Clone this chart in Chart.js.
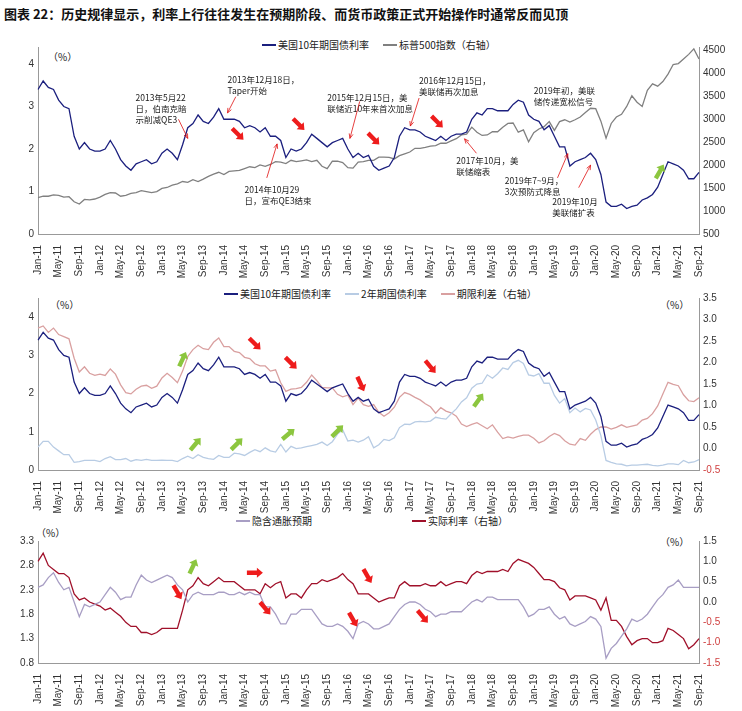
<!DOCTYPE html>
<html><head><meta charset="utf-8">
<script src="https://cdn.jsdelivr.net/npm/chart.js@4/dist/chart.umd.min.js"></script>
<style>
body{margin:0;background:#fff;font-family:"Noto Sans CJK SC","Noto Sans",sans-serif;width:742px;height:711px;overflow:hidden;position:relative}
.c{position:absolute;left:0;width:742px}
.t{position:absolute;font-size:10px;color:#222;white-space:nowrap}
.lg{position:absolute;font-size:10px;color:#222;white-space:nowrap;display:flex;gap:14px}
.lg span{display:inline-flex;align-items:center}
.lg i{display:inline-block;width:14px;height:2px;margin-right:2px}
</style></head><body>
<div class="t" style="left:4px;top:4px;font-size:13px;font-weight:bold;color:#111">图表 22：历史规律显示，利率上行往往发生在预期阶段、而货币政策正式开始操作时通常反而见顶</div>
<div class="lg" style="left:262px;top:37px"><span><i style="background:#1b1f7e"></i>美国10年期国债利率</span><span><i style="background:#808080"></i>标普500指数（右轴）</span></div>
<div class="lg" style="left:224px;top:286px"><span><i style="background:#1b1f7e"></i>美国10年期国债利率</span><span><i style="background:#b8cce4"></i>2年期国债利率</span><span><i style="background:#d9a0a0"></i>期限利差（右轴）</span></div>
<div class="lg" style="left:236px;top:513px;gap:100px"><span><i style="background:#a89ec4"></i>隐含通胀预期</span><span><i style="background:#a0102a"></i>实际利率（右轴）</span></div>
<div class="t" style="left:48px;top:49px">（%）</div>
<div class="t" style="left:50px;top:297px">（%）</div>
<div class="t" style="left:660px;top:297px">（%）</div>
<div class="t" style="left:36px;top:525px">（%）</div>
<div class="t" style="left:660px;top:534px">（%）</div>
<canvas id="c1" class="c" style="top:37px;height:249px" width="742" height="249"></canvas>
<canvas id="c2" class="c" style="top:288px;height:234px" width="742" height="234"></canvas>
<canvas id="c3" class="c" style="top:531px;height:178px" width="742" height="178"></canvas>
<script>
const MON=["Jan","Feb","Mar","Apr","May","Jun","Jul","Aug","Sep","Oct","Nov","Dec"];
const months=[];for(let y=11;y<=21;y++)for(let m=0;m<12;m++){if(y===21&&m>8)break;months.push(MON[m]+"-"+y);}

const us10y=[3.4,3.6,3.45,3.4,3.15,3.0,2.95,2.3,2.0,2.15,2.0,1.95,
1.95,2.0,2.2,2.0,1.75,1.6,1.5,1.65,1.7,1.75,1.65,1.7,
1.9,2.0,1.9,1.75,2.1,2.5,2.6,2.8,2.65,2.6,2.75,2.95,
2.7,2.7,2.7,2.65,2.5,2.55,2.5,2.4,2.5,2.3,2.3,2.2,
1.8,2.0,1.95,2.0,2.15,2.35,2.25,2.15,2.05,2.15,2.2,2.25,
2.0,1.8,1.9,1.8,1.85,1.6,1.5,1.55,1.6,1.8,2.3,2.5,
2.45,2.45,2.4,2.3,2.25,2.2,2.3,2.2,2.3,2.35,2.35,2.4,
2.7,2.85,2.8,2.95,2.95,2.9,2.9,2.9,3.05,3.15,3.1,2.8,
2.7,2.65,2.45,2.55,2.3,2.05,2.05,1.6,1.7,1.75,1.8,1.9,
1.75,1.4,0.75,0.65,0.65,0.7,0.6,0.65,0.68,0.8,0.85,0.93,
1.1,1.4,1.7,1.65,1.6,1.5,1.3,1.3,1.45];
const sp500=[1290,1320,1320,1350,1340,1300,1310,1200,1150,1250,1240,1260,
1300,1360,1400,1390,1320,1340,1380,1400,1440,1420,1400,1420,
1490,1510,1560,1590,1640,1620,1680,1640,1690,1750,1800,1840,
1790,1860,1870,1880,1920,1960,1940,2000,1970,2010,2070,2060,
2030,2100,2070,2090,2110,2070,2100,1970,1920,2080,2080,2050,
1940,1930,2060,2070,2100,2100,2170,2170,2165,2130,2200,2240,
2280,2360,2360,2380,2410,2420,2470,2470,2520,2570,2650,2670,
2820,2710,2640,2650,2720,2720,2820,2900,2910,2710,2760,2500,
2700,2780,2830,2940,2750,2940,2980,2930,2980,3040,3140,3230,
3220,2950,2580,2900,3040,3100,3270,3500,3360,3270,3620,3760,
3710,3810,3970,4180,4200,4300,4400,4520,4300];
const us2y=[0.6,0.75,0.75,0.6,0.5,0.4,0.4,0.2,0.22,0.25,0.25,0.25,
0.22,0.3,0.35,0.27,0.27,0.3,0.23,0.27,0.25,0.28,0.25,0.25,
0.26,0.25,0.25,0.22,0.3,0.36,0.3,0.4,0.33,0.3,0.28,0.38,
0.33,0.33,0.44,0.42,0.38,0.46,0.53,0.48,0.58,0.5,0.47,0.67,
0.47,0.62,0.56,0.58,0.61,0.64,0.67,0.73,0.64,0.74,0.94,1.05,
0.76,0.78,0.73,0.78,0.87,0.58,0.66,0.8,0.77,0.84,1.11,1.2,
1.19,1.26,1.27,1.26,1.28,1.38,1.35,1.33,1.47,1.6,1.78,1.89,
2.14,2.25,2.27,2.49,2.4,2.52,2.67,2.63,2.81,2.87,2.79,2.49,
2.46,2.52,2.27,2.27,1.95,1.75,1.87,1.5,1.62,1.52,1.61,1.57,
1.31,0.9,0.25,0.2,0.16,0.15,0.11,0.13,0.13,0.14,0.15,0.12,
0.11,0.13,0.16,0.16,0.14,0.25,0.19,0.21,0.27];
const spread=[2.8,2.85,2.7,2.8,2.65,2.6,2.55,2.1,1.78,1.9,1.75,1.7,
1.73,1.7,1.85,1.73,1.48,1.3,1.27,1.38,1.45,1.47,1.4,1.45,
1.64,1.75,1.65,1.53,1.8,2.14,2.3,2.4,2.32,2.3,2.47,2.57,
2.37,2.37,2.26,2.23,2.12,2.09,1.97,1.92,1.92,1.8,1.83,1.53,
1.33,1.38,1.39,1.42,1.54,1.71,1.58,1.42,1.41,1.41,1.26,1.2,
1.24,1.02,1.17,1.02,0.98,1.02,0.84,0.75,0.83,0.96,1.19,1.3,
1.26,1.19,1.13,1.04,0.97,0.82,0.95,0.87,0.83,0.75,0.57,0.51,
0.56,0.6,0.53,0.46,0.55,0.38,0.23,0.27,0.24,0.28,0.31,0.31,
0.24,0.13,0.18,0.28,0.35,0.3,0.18,0.1,0.08,0.23,0.19,0.33,
0.44,0.5,0.5,0.45,0.49,0.55,0.49,0.52,0.55,0.66,0.7,0.81,
0.99,1.27,1.54,1.49,1.46,1.25,1.11,1.09,1.18];
const breakeven=[2.35,2.4,2.55,2.65,2.45,2.3,2.35,2.05,1.75,2.0,1.95,2.0,
2.05,2.2,2.35,2.25,2.1,2.15,2.15,2.4,2.6,2.5,2.45,2.5,
2.55,2.6,2.55,2.4,2.3,2.05,2.2,2.25,2.2,2.2,2.2,2.25,
2.25,2.2,2.2,2.25,2.2,2.25,2.2,2.2,1.95,1.95,1.8,1.6,
1.6,1.8,1.8,1.9,1.9,1.9,1.75,1.6,1.55,1.55,1.6,1.55,
1.45,1.3,1.6,1.65,1.6,1.5,1.5,1.55,1.6,1.75,1.9,2.0,
2.05,2.05,2.0,1.9,1.85,1.75,1.8,1.8,1.85,1.85,1.85,1.95,
2.05,2.1,2.05,2.15,2.15,2.1,2.1,2.1,2.1,2.1,1.95,1.75,
1.8,1.9,1.9,1.95,1.8,1.7,1.75,1.6,1.55,1.6,1.65,1.75,
1.7,1.55,0.9,1.1,1.2,1.35,1.5,1.7,1.65,1.7,1.8,1.95,
2.1,2.2,2.35,2.4,2.5,2.35,2.35,2.35,2.35];
const realRate=[1.0,1.2,0.9,0.8,0.7,0.7,0.6,0.2,0.05,0.1,0.0,-0.05,
-0.1,-0.2,-0.15,-0.25,-0.35,-0.5,-0.6,-0.6,-0.75,-0.75,-0.8,-0.75,
-0.65,-0.65,-0.65,-0.65,-0.2,0.3,0.4,0.6,0.45,0.4,0.5,0.6,
0.5,0.5,0.5,0.4,0.3,0.3,0.3,0.2,0.45,0.35,0.45,0.5,
0.1,0.2,0.2,0.1,0.3,0.45,0.45,0.55,0.5,0.55,0.6,0.7,
0.55,0.45,0.2,0.2,0.2,0.1,0.0,0.05,0.1,0.1,0.4,0.5,
0.4,0.4,0.4,0.45,0.4,0.4,0.5,0.4,0.45,0.5,0.5,0.45,
0.65,0.75,0.7,0.75,0.75,0.75,0.8,0.75,0.95,1.05,1.0,0.95,
0.85,0.7,0.55,0.55,0.5,0.35,0.3,0.05,0.15,0.15,0.15,0.1,
0.05,-0.2,0.1,-0.45,-0.45,-0.6,-0.85,-1.05,-0.95,-0.9,-0.9,-1.0,
-1.0,-0.95,-0.65,-0.7,-0.8,-0.9,-1.15,-1.05,-0.9];

const notes1=[[18.9,3.31,["2013年5月22","日，伯南克暗","示削减QE3"]],[36.7,3.73,["2013年12月18日，","Taper开始"]],
[40,1.13,["2014年10月29","日，宣布QE3结束"]],[56,3.31,["2015年12月15日，美","联储近10年来首次加息"]],
[73.8,3.71,["2016年12月15日，","美联储再次加息"]],[81,1.82,["2017年10月，美","联储缩表"]],
[96,3.46,["2019年初，美联","储传递宽松信号"]],[90.4,1.36,["2019年7~9月，","3次预防式降息"]],[99.6,0.86,["2019年10月","美联储扩表"]]];
const pointers1=[[27.2,2.7,29,2.25],[38.3,3.23,36.7,2.85],[44.3,1.32,46.3,2.12],[62.3,3.12,60.4,2.25],[73.8,3.2,72.1,2.54],[84.9,1.9,82.6,2.24],[100.6,1.32,102.6,1.89],[104.7,1.09,107,1.62]];
const fat1=[[38.7,2.35,45,"r"],[50.5,2.58,45,"r"],[65,2.24,45,"r"],[77.3,2.64,45,"r"],[120.4,1.47,-60,"g"]];
const fat2=[[42,3.3,45,"r"],[49,2.8,45,"r"],[62.5,2.25,65,"r"],[76,2.7,50,"r"],[28,2.9,-65,"g"],[30.5,0.68,-50,"g"],[38.5,0.68,-45,"g"],[48.5,0.94,-40,"g"],[58,1.02,-45,"g"],[85.3,1.83,-55,"g"]];
const fat3=[[27,2.25,60,"r"],[42,2.65,0,"r"],[44,1.92,50,"r"],[61,1.69,60,"r"],[63.8,2.58,60,"r"],[74.5,1.75,50,"r"],[30,2.78,-65,"g"]];

const marks={id:'marks',afterDatasetsDraw(ch,a,o){
  const ctx=ch.ctx,x=ch.scales.x,y=ch.scales.y;ctx.save();
  ctx.font='8.5px "Noto Sans CJK SC"';ctx.fillStyle='#222';ctx.textBaseline='top';
  (o.notes||[]).forEach(n=>{n[2].forEach((l,k)=>ctx.fillText(l,x.getPixelForValue(n[0]),y.getPixelForValue(n[1])+k*11));});
  ctx.strokeStyle='#e01010';ctx.lineWidth=0.8;
  (o.pointers||[]).forEach(p=>{const x1=x.getPixelForValue(p[0]),y1=y.getPixelForValue(p[1]),x2=x.getPixelForValue(p[2]),y2=y.getPixelForValue(p[3]);
    ctx.beginPath();ctx.moveTo(x1,y1);ctx.lineTo(x2,y2);ctx.stroke();
    const an=Math.atan2(y2-y1,x2-x1);ctx.beginPath();ctx.moveTo(x2,y2);
    ctx.lineTo(x2-5*Math.cos(an-0.4),y2-5*Math.sin(an-0.4));ctx.moveTo(x2,y2);ctx.lineTo(x2-5*Math.cos(an+0.4),y2-5*Math.sin(an+0.4));ctx.stroke();});
  (o.fat||[]).forEach(f=>{const cx=x.getPixelForValue(f[0]),cy=y.getPixelForValue(f[1]);
    ctx.save();ctx.translate(cx,cy);ctx.rotate(f[2]*Math.PI/180);ctx.fillStyle=f[3]==='r'?'#ee1c1c':'#8cc63f';
    ctx.beginPath();ctx.moveTo(-8,-2.2);ctx.lineTo(2,-2.2);ctx.lineTo(2,-5);ctx.lineTo(8,0);ctx.lineTo(2,5);ctx.lineTo(2,2.2);ctx.lineTo(-8,2.2);ctx.closePath();ctx.fill();ctx.restore();});
  ctx.restore();}};
Chart.register(marks);

function ds(d,c,ax){return {data:d,borderColor:c,borderWidth:1.3,pointRadius:0,tension:0,yAxisID:ax,fill:false};}
function yax(pos,min,max,step,w,col,fmt){return {position:pos,min,max,grid:{display:false,drawTicks:false},border:{display:true,color:'#999'},
  afterFit:s=>{s.width=w},
  afterBuildTicks:s=>{const t=[];for(let v=min;v<=max+1e-9;v+=step)t.push({value:Math.round(v*1000)/1000});s.ticks=t;},
  ticks:{color:col||'#333',font:{size:10},padding:4,callback:fmt||(v=>v)}};}
function xax(h){return {grid:{display:false},border:{display:true,color:'#999'},afterFit:s=>{s.height=h},
  ticks:{autoSkip:false,maxRotation:90,minRotation:90,color:'#333',font:{size:10},padding:3,callback:(v,i)=>i%4===0?months[i]:''}};}
function mk(id,sets,yl,yr,h,pl){
  new Chart(document.getElementById(id),{type:'line',data:{labels:months,datasets:sets},
  options:{responsive:false,animation:false,layout:{padding:{top:6,left:0,right:0,bottom:0}},
  plugins:{legend:{display:false},tooltip:{enabled:false},marks:pl},
  scales:{x:xax(h),y:yl,y1:yr}}});}

mk('c1',[ds(us10y,'#1b1f7e','y'),ds(sp500,'#808080','y1')],
  yax('left',0,4.4,1,38),yax('right',500,4560,500,43),52,{notes:notes1,pointers:pointers1,fat:fat1});
mk('c2',[ds(us10y,'#1b1f7e','y'),ds(us2y,'#b8cce4','y'),ds(spread,'#d9a0a0','y1')],
  yax('left',0,4.5,1,38),yax('right',-0.5,3.5,0.5,43,c=>c.tick&&c.tick.value<0?'#d04040':'#333',v=>v.toFixed(1)),52,{fat:fat2});
mk('c3',[ds(breakeven,'#a89ec4','y'),ds(realRate,'#a0102a','y1')],
  yax('left',0.8,3.3,0.5,38,null,v=>v.toFixed(1)),yax('right',-1.5,1.5,0.5,43,c=>c.tick&&c.tick.value<0?'#d04040':'#333',v=>v.toFixed(1)),46,{fat:fat3});
</script></body></html>
